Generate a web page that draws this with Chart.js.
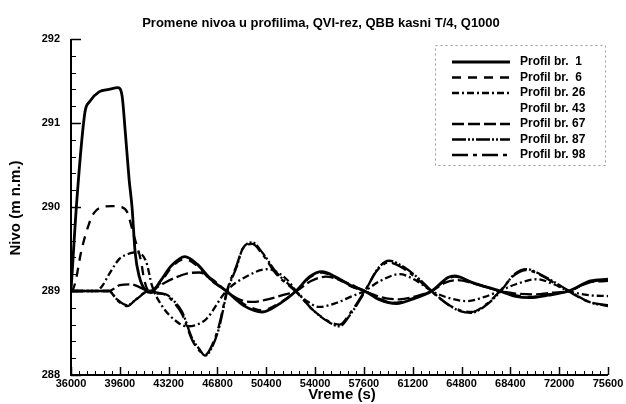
<!DOCTYPE html>
<html>
<head>
<meta charset="utf-8">
<script src="https://cdn.jsdelivr.net/npm/chart.js@4.4.1/dist/chart.umd.min.js"></script>
<style>
  html, body { margin: 0; padding: 0; background: #fff; }
  #wrap { width: 626px; height: 404px; }
</style>
</head>
<body>
<div id="wrap"><canvas id="nivo" width="626" height="404"></canvas></div>
<script>
// axis ticks
var xTicks = [36000, 39600, 43200, 46800, 50400, 54000, 57600, 61200, 64800, 68400, 72000, 75600];
var yTicks = [288, 289, 290, 291, 292];

// Profil br. 1
var p1T = [36000, 36440, 37030, 37350, 38070, 38800, 39470, 39770, 40000, 40285, 40500, 40730, 41020, 41540, 41900, 42600, 43400, 44400, 45300, 46300, 47450, 48800, 50100, 51400, 52600, 53600, 54500, 55600, 56700, 57650, 58700, 60000, 61300, 62600, 63800, 64300, 65600, 67600, 68700, 69800, 71200, 72700, 74300, 75600];
var p1V = [289.0, 290.1, 291.13, 291.25, 291.37, 291.40, 291.42, 291.32, 290.9, 290.33, 290.0, 289.46, 289.18, 289.0, 288.98, 289.12, 289.3, 289.41, 289.32, 289.14, 289.0, 288.82, 288.75, 288.85, 289.0, 289.17, 289.23, 289.16, 289.06, 289.0, 288.9, 288.85, 288.91, 289.0, 289.16, 289.18, 289.1, 289.0, 288.94, 288.92, 288.95, 289.0, 289.12, 289.14];

// Profil br. 6
var p6T = [36000, 36150, 36370, 36740, 37330, 37700, 38290, 39000, 39690, 40140, 40650, 41170, 41390, 41760, 42600, 43400, 44400, 45300, 46300, 47450, 48800, 50100, 51400, 52600, 53600, 54500, 55600, 56700, 57650, 58700, 60000, 61300, 62600, 63800, 64300, 65600, 67600, 68700, 69800, 71200, 72700, 74300, 75600];
var p6V = [289.0, 289.02, 289.14, 289.46, 289.8, 289.93, 290.0, 290.01, 290.0, 289.94, 289.65, 289.35, 289.14, 289.0, 289.1, 289.28, 289.38, 289.3, 289.13, 289.0, 288.84, 288.77, 288.86, 289.0, 289.16, 289.22, 289.15, 289.05, 289.0, 288.91, 288.86, 288.92, 289.0, 289.15, 289.17, 289.1, 289.0, 288.95, 288.93, 288.96, 289.0, 289.11, 289.13];

// Profil br. 26
var p26T = [36000, 37850, 38300, 38810, 39550, 40200, 40800, 41540, 41980, 42720, 43760, 44500, 45300, 46000, 47450, 48900, 50500, 51900, 52600, 53400, 54300, 55600, 56600, 57650, 58800, 60230, 61500, 62600, 63800, 65200, 66500, 67600, 68800, 70350, 71600, 72700, 74200, 75600];
var p26V = [289.0, 289.0, 289.06, 289.2, 289.38, 289.44, 289.46, 289.35, 289.06, 288.82, 288.64, 288.58, 288.6, 288.67, 289.0, 289.17, 289.26, 289.14, 289.0, 288.88, 288.81, 288.86, 288.93, 289.0, 289.12, 289.2, 289.12, 289.0, 288.92, 288.88, 288.93, 289.0, 289.08, 289.14, 289.08, 289.0, 288.95, 288.94];

// Profil br. 67
var p67T = [36000, 38800, 39600, 40400, 41000, 41760, 42700, 43700, 44600, 45460, 46400, 47450, 48400, 49400, 50500, 51600, 52600, 53700, 54800, 56300, 57650, 58800, 60200, 61500, 62600, 63600, 64500, 65900, 67600, 68800, 70100, 71500, 72700, 74200, 75600];
var p67V = [289.0, 289.0, 289.07, 289.08, 289.05, 289.0, 289.08, 289.16, 289.21, 289.22, 289.14, 289.0, 288.9, 288.87, 288.9, 288.95, 289.0, 289.12, 289.17, 289.1, 289.0, 288.93, 288.9, 288.94, 289.0, 289.1, 289.13, 289.08, 289.0, 288.97, 288.96, 288.98, 289.0, 289.1, 289.12];

// Profil br. 87 and 98 (same time points)
var p87T = [36000, 38800, 39400, 40150, 40800, 41760, 42400, 43000, 43600, 44200, 44950, 45460, 45900, 46300, 46900, 47530, 48200, 48650, 49370, 50100, 51150, 52600, 53800, 55000, 55800, 56600, 57700, 58600, 59450, 60600, 61700, 62600, 63800, 64700, 65500, 66600, 67700, 68700, 69600, 70600, 71700, 72750, 74200, 75600];
var p87V = [289.0, 289.0, 288.9, 288.83, 288.9, 289.0, 288.97, 288.96, 288.88, 288.75, 288.43, 288.31, 288.23, 288.3, 288.55, 289.0, 289.28, 289.5, 289.58, 289.46, 289.22, 289.0, 288.78, 288.63, 288.58, 288.72, 289.0, 289.26, 289.36, 289.28, 289.14, 289.0, 288.84, 288.76, 288.74, 288.83, 289.0, 289.2, 289.26, 289.2, 289.1, 289.0, 288.87, 288.82];
var p98V = [289.0, 289.0, 288.89, 288.82, 288.9, 289.0, 288.98, 288.95, 288.86, 288.72, 288.41, 288.29, 288.24, 288.32, 288.58, 289.02, 289.3, 289.5, 289.56, 289.44, 289.2, 288.99, 288.78, 288.64, 288.6, 288.74, 289.01, 289.25, 289.34, 289.26, 289.12, 288.99, 288.84, 288.77, 288.75, 288.84, 289.01, 289.19, 289.25, 289.19, 289.09, 288.99, 288.87, 288.83];

var FONT = "'Liberation Sans', Arial, Helvetica, sans-serif";

function pts(t, v) {
    return t.map(function (x, i) { return { x: x, y: v[i] }; });
}

function line(label, data, dash, width) {
    return {
        label: label,
        data: data,
        borderColor: '#000',
        borderWidth: width || 2.3,
        borderDash: dash,
        pointRadius: 0,
        fill: false,
        cubicInterpolationMode: 'monotone'
    };
}

var datasets = [
    line('Profil br.  1', pts(p1T, p1V), [], 2.8),
    line('Profil br.  6', pts(p6T, p6V), [9, 7]),
    line('Profil br. 26', pts(p26T, p26V), [7, 3, 2, 3]),
    // profil 43 has a legend entry but no visible line
    { label: 'Profil br. 43', data: [], borderColor: 'rgba(0,0,0,0)', borderWidth: 0, pointRadius: 0 },
    line('Profil br. 67', pts(p67T, p67V), [12, 4]),
    line('Profil br. 87', pts(p87T, p87V), [14, 2, 2, 2, 2, 2]),
    line('Profil br. 98', pts(p87T, p98V), [16, 5, 4, 5])
];

// ticks, titles and the boxed legend
var decor = {
    id: 'decor',
    afterDraw: function (chart) {
        var ctx = chart.ctx, xs = chart.scales.x, ys = chart.scales.y, a = chart.chartArea;
        ctx.save();
        ctx.strokeStyle = '#000';
        ctx.fillStyle = '#000';

        // axis lines
        ctx.lineWidth = 2;
        ctx.beginPath();
        ctx.moveTo(a.left, a.top);
        ctx.lineTo(a.left, a.bottom);
        ctx.lineTo(a.right, a.bottom);
        ctx.stroke();

        // x ticks, pointing up into the plot
        ctx.lineWidth = 1;
        for (var t = xTicks[0]; t <= xTicks[xTicks.length - 1]; t += 600) {
            var px = Math.round(xs.getPixelForValue(t)) + 0.5;
            var len = (t - xTicks[0]) % 3600 === 0 ? 8 : 4;
            ctx.lineWidth = len === 8 ? 1.5 : 1;
            ctx.beginPath();
            ctx.moveTo(px, a.bottom);
            ctx.lineTo(px, a.bottom - len);
            ctx.stroke();
        }
        // y ticks, pointing right
        for (var k = 0; k <= 20; k++) {
            var v = yTicks[0] + k * 0.2;
            var py = Math.round(ys.getPixelForValue(v)) + 0.5;
            var l = k % 5 === 0 ? 10 : 5;
            ctx.lineWidth = k % 5 === 0 ? 1.5 : 1;
            ctx.beginPath();
            ctx.moveTo(a.left, py);
            ctx.lineTo(a.left + l, py);
            ctx.stroke();
        }

        // titles
        ctx.textAlign = 'center';
        ctx.textBaseline = 'middle';
        ctx.font = 'bold 13px ' + FONT;
        ctx.fillText('Promene nivoa u profilima, QVI-rez, QBB kasni T/4, Q1000', 321, 23);
        ctx.font = 'bold 15px ' + FONT;
        ctx.fillText('Vreme (s)', 342, 395);
        ctx.save();
        ctx.translate(16, 208);
        ctx.rotate(-Math.PI / 2);
        ctx.fillText('Nivo (m n.m.)', 0, 0);
        ctx.restore();

        // legend box
        ctx.strokeStyle = '#999';
        ctx.lineWidth = 1;
        ctx.setLineDash([2, 3]);
        ctx.strokeRect(435.5, 45.5, 170, 120);
        ctx.setLineDash([]);

        ctx.font = 'bold 12px ' + FONT;
        ctx.textAlign = 'left';
        chart.data.datasets.forEach(function (ds, i) {
            var y = 62 + i * 15.5;
            ctx.strokeStyle = ds.borderColor;
            ctx.lineWidth = ds.borderWidth;
            if (ds.borderWidth > 0) {
                ctx.setLineDash(ds.borderDash || []);
                ctx.beginPath();
                ctx.moveTo(452, y);
                ctx.lineTo(510, y);
                ctx.stroke();
                ctx.setLineDash([]);
            }
            ctx.fillStyle = '#000';
            ctx.fillText(ds.label, 520, y);
        });
        ctx.restore();
    }
};

new Chart(document.getElementById('nivo'), {
    type: 'line',
    data: { datasets: datasets },
    options: {
        responsive: false,
        animation: false,
        devicePixelRatio: 1,
        layout: { padding: { top: 39, right: 18, left: 0, bottom: 0 } },
        plugins: {
            legend: { display: false },
            title: { display: false },
            tooltip: { enabled: false }
        },
        scales: {
            x: {
                type: 'linear',
                min: xTicks[0],
                max: xTicks[xTicks.length - 1],
                afterBuildTicks: function (s) { s.ticks = xTicks.map(function (v) { return { value: v }; }); },
                afterFit: function (s) { s.height = 29; },
                grid: { display: false, drawTicks: false },
                border: { display: false },
                ticks: {
                    color: '#000',
                    padding: 2,
                    maxRotation: 0,
                    autoSkip: false,
                    font: { family: FONT, size: 11, weight: 'bold' },
                    callback: function (v) { return String(v); }
                }
            },
            y: {
                min: yTicks[0],
                max: yTicks[yTicks.length - 1],
                afterBuildTicks: function (s) { s.ticks = yTicks.map(function (v) { return { value: v }; }); },
                afterFit: function (s) { s.width = 71; },
                grid: { display: false, drawTicks: false },
                border: { display: false },
                ticks: {
                    color: '#000',
                    padding: 11,
                    font: { family: FONT, size: 11, weight: 'bold' },
                    callback: function (v) { return String(v); }
                }
            }
        }
    },
    plugins: [decor]
});
</script>
</body>
</html>
